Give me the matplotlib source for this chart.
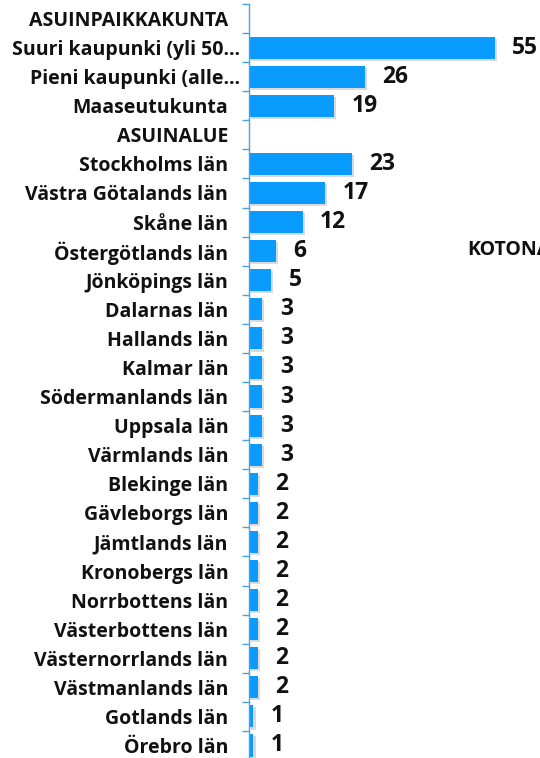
import matplotlib.pyplot as plt
import matplotlib.patheffects as pe
import matplotlib.transforms as mtransforms
import numpy as np

plt.rcParams['font.family'] = ['Open Sans', 'DejaVu Sans']

categories = [
    "ASUINPAIKKAKUNTA", "Suuri kaupunki (yli 50…", "Pieni kaupunki (alle…",
    "Maaseutukunta", "ASUINALUE", "Stockholms län", "Västra Götalands län",
    "Skåne län", "Östergötlands län", "Jönköpings län", "Dalarnas län",
    "Hallands län", "Kalmar län", "Södermanlands län", "Uppsala län",
    "Värmlands län", "Blekinge län", "Gävleborgs län", "Jämtlands län",
    "Kronobergs län", "Norrbottens län", "Västerbottens län",
    "Västernorrlands län", "Västmanlands län", "Gotlands län", "Örebro län",
]
values = [None, 55, 26, 19, None, 23, 17, 12, 6, 5, 3, 3, 3, 3, 3, 3,
          2, 2, 2, 2, 2, 2, 2, 2, 1, 1]
series_name = "KOTONA"

bar_color = "#0a9bff"
axis_color = "#4aa3df"

W, H = 540, 758
fig = plt.figure(figsize=(W / 100, H / 100), dpi=100)
ax = fig.add_axes([249 / W, -2 / H, 1 - 249 / W, (760 - 4) / H])

y = np.arange(len(categories))
vals = np.array([np.nan if v is None else v for v in values], dtype=float)
mask = ~np.isnan(vals)

# Excel-like soft shadow on the bars
shadow = [pe.SimplePatchShadow(offset=(1.5, -1.5), shadow_rgbFace="#000000", alpha=0.15),
          pe.Normal()]
bars = ax.barh(y[mask], vals[mask], height=0.76, color=bar_color, zorder=2)
for b in bars:
    b.set_path_effects(shadow)

for yi, v in zip(y[mask], vals[mask]):
    ax.annotate(f"{int(v)}", (v, yi), xytext=(12.5, 0), textcoords="offset points",
                ha="left", va="center", fontsize=16.5, fontweight="bold", color="#111111")

ax.set_xlim(0, (W - 249) / 4.47)
ax.set_ylim(len(categories) - 0.5, -0.5)

ax.set_yticks(y)
ax.set_yticklabels(categories, fontsize=14, fontweight="bold", color="#111111")
ax.tick_params(axis="y", length=0, pad=15)
ax.set_yticks(np.arange(len(categories) + 1) - 0.5, minor=True)
ax.tick_params(axis="y", which="minor", length=5, color=axis_color, width=1)
ax.set_xticks([])

# truncated labels sit a bit closer to the axis
for lab in ax.get_yticklabels():
    if lab.get_text().endswith("…"):
        lab.set_transform(lab.get_transform() +
                          mtransforms.ScaledTranslation(12 / 100, 0, fig.dpi_scale_trans))

for s in ["top", "right", "bottom"]:
    ax.spines[s].set_visible(False)
ax.spines["left"].set_color(axis_color)
ax.spines["left"].set_linewidth(1)

# legend text, cut off at the right edge as in the reference
fig.text(467 / W, 1 - 250 / H, series_name, ha="left", va="center",
         fontsize=14, fontweight="bold", color="#111111")

fig.savefig("out.png", dpi=100)
